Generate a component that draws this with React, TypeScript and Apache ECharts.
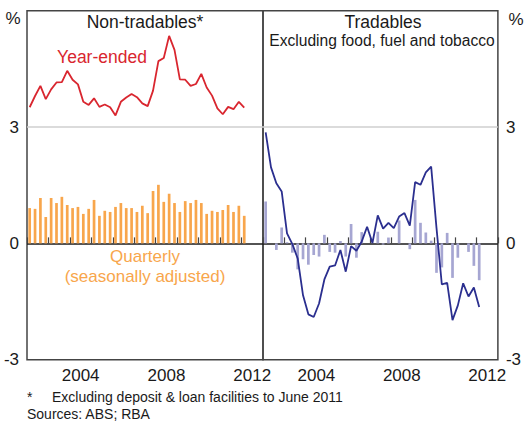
import React, { useEffect, useRef } from "react";
import * as echarts from "echarts";

const years = ["2002", "2003", "2004", "2005", "2006", "2007", "2008", "2009", "2010", "2011", "2012"];
const shownYears = ["2004", "2008", "2012"];
const quarterNames = ["Q1", "Q2", "Q3", "Q4"];
const quarters = years.flatMap((y) => quarterNames.map((q) => y + q));

const nonTradYearEnded = [
  3.51, 3.8, 4.06, 3.72, 3.97, 4.15, 4.16, 4.45, 4.22, 4.1,
  3.65, 3.57, 3.74, 3.52, 3.58, 3.51, 3.3, 3.65, 3.76, 3.85,
  3.77, 3.61, 3.54, 3.94, 4.7, 4.78, 5.35, 4.99, 4.23, 4.22,
  4.06, 4.11, 4.37, 4.02, 3.81, 3.48, 3.33, 3.52, 3.46, 3.65,
  3.5,
];
const nonTradQuarterly = [
  0.91, 0.89, 1.17, 0.68, 1.17, 1.04, 1.2, 0.99, 0.91, 0.94,
  0.76, 0.89, 1.12, 0.71, 0.84, 0.81, 0.94, 1.04, 0.91, 0.91,
  0.81, 0.97, 0.78, 1.35, 1.51, 1.07, 1.28, 1.04, 0.81, 1.09,
  1.04, 1.12, 1.04, 0.76, 0.84, 0.81, 0.86, 0.99, 0.81, 0.97,
  0.71,
];
const tradYearEnded = [
  2.86, 1.96, 1.55, 1.34, 0.26, -0.02, -0.39, -1.34, -1.83, -1.9,
  -1.55, -0.93, -0.6, -0.57, -0.17, -0.73, -0.07, -0.19, 0.05, 0.43,
  0.01, 0.72, 0.38, 0.53, 0.39, 0.69, 0.78, 0.46, 1.58, 1.51,
  1.83, 1.98, 0.4, -1.06, -1.02, -1.98, -1.6, -1.03, -1.37, -1.14,
  -1.64,
];
const tradQuarterly = [
  1.08, 0.0, -0.17, 0.41, 0.03, -0.24, -0.67, -0.41, -0.55, -0.3,
  -0.34, 0.22, -0.22, -0.24, 0.06, -0.34, 0.5, -0.37, 0.29, 0.0,
  0.0, 0.3, -0.03, 0.15, 0.0, 0.59, 0.0, -0.15, 1.12, 0.53,
  0.28, 0.07, -0.76, -0.62, 0.27, -0.89, -0.37, 0.0, -0.22, -0.58,
  -0.95,
];

const FONT = "Liberation Sans, Arial, sans-serif";
const TXT = "#1a1a1a";
const RED = "#d9262f";
const ORANGE = "#f8a64c";
const BLUE = "#2b2f8f";
const PURPLE = "#a6a6d2";

export default function App() {
  const ref = useRef<HTMLDivElement>(null);
  useEffect(() => {
    if (!ref.current) return;
    const chart = echarts.init(ref.current, null, { renderer: "svg" });
    const yAxisBase = (gridIndex: number, position: string) => ({
      type: "value",
      gridIndex,
      position,
      min: -3,
      max: 6,
      interval: 3,
      axisLine: { show: false },
      axisTick: { show: false },
      axisLabel: {
        show: true,
        margin: 8,
        color: TXT,
        fontSize: 17,
        fontFamily: FONT,
        formatter: (v: number) => (v === 6 ? "" : String(v)),
      },
      splitLine: {
        show: true,
        lineStyle: { color: ["transparent", "#1a1a1a", "#cfcfcf", "transparent"], width: 1.5 },
      },
    });
    const yearAxis = (gridIndex: number) => ({
      type: "category",
      gridIndex,
      data: years,
      position: "bottom",
      boundaryGap: true,
      axisLine: { show: false },
      axisTick: { show: true, inside: true, length: 6, interval: 0, lineStyle: { color: "#444", width: 1.2 } },
      axisLabel: {
        show: true,
        interval: (idx: number, val: string) => shownYears.includes(val),
        color: TXT,
        fontSize: 17,
        fontFamily: FONT,
        margin: 7,
      },
      splitLine: { show: false },
    });
    const quarterAxis = (gridIndex: number) => ({
      type: "category",
      gridIndex,
      data: quarters,
      boundaryGap: true,
      show: false,
    });
    const option: any = {
      animation: false,
      grid: [
        { left: 27, top: 10.7, width: 236, height: 349, show: true, borderColor: "#444", borderWidth: 1.5, backgroundColor: "transparent" },
        { left: 263, top: 10.7, width: 238, height: 349, show: true, borderColor: "#444", borderWidth: 1.5, backgroundColor: "transparent" },
      ],
      xAxis: [yearAxis(0), quarterAxis(0), yearAxis(1), quarterAxis(1)],
      yAxis: [yAxisBase(0, "left"), yAxisBase(1, "right")],
      series: [
        {
          type: "bar",
          xAxisIndex: 1,
          yAxisIndex: 0,
          data: nonTradQuarterly,
          barWidth: 2.7,
          itemStyle: { color: ORANGE },
        },
        {
          type: "line",
          xAxisIndex: 1,
          yAxisIndex: 0,
          data: nonTradYearEnded,
          showSymbol: false,
          symbol: "none",
          lineStyle: { color: RED, width: 1.8 },
        },
        {
          type: "bar",
          xAxisIndex: 3,
          yAxisIndex: 1,
          data: tradQuarterly,
          barWidth: 2.7,
          itemStyle: { color: PURPLE },
        },
        {
          type: "line",
          xAxisIndex: 3,
          yAxisIndex: 1,
          data: tradYearEnded,
          showSymbol: false,
          symbol: "none",
          lineStyle: { color: BLUE, width: 1.8 },
        },
      ],
      graphic: [
        { type: "text", x: 145, y: 22, style: { text: "Non-tradables*", fill: TXT, font: `17.5px ${FONT}`, textAlign: "center", textVerticalAlign: "middle" } },
        { type: "text", x: 102, y: 57, style: { text: "Year-ended", fill: RED, font: `17.5px ${FONT}`, textAlign: "center", textVerticalAlign: "middle" } },
        { type: "text", x: 383, y: 22, style: { text: "Tradables", fill: TXT, font: `17.5px ${FONT}`, textAlign: "center", textVerticalAlign: "middle" } },
        { type: "text", x: 382, y: 40, style: { text: "Excluding food, fuel and tobacco", fill: TXT, font: `15.6px ${FONT}`, textAlign: "center", textVerticalAlign: "middle" } },
        { type: "text", x: 145, y: 256, style: { text: "Quarterly", fill: ORANGE, font: `17px ${FONT}`, textAlign: "center", textVerticalAlign: "middle" } },
        { type: "text", x: 145, y: 276, style: { text: "(seasonally adjusted)", fill: ORANGE, font: `17px ${FONT}`, textAlign: "center", textVerticalAlign: "middle" } },
        { type: "text", x: 13, y: 18, style: { text: "%", fill: TXT, font: `17px ${FONT}`, textAlign: "center", textVerticalAlign: "middle" } },
        { type: "text", x: 516, y: 19, style: { text: "%", fill: TXT, font: `17px ${FONT}`, textAlign: "center", textVerticalAlign: "middle" } },
        { type: "text", x: 27, y: 397, style: { text: "*", fill: TXT, font: `14px ${FONT}`, textAlign: "left", textVerticalAlign: "middle" } },
        { type: "text", x: 52, y: 397, style: { text: "Excluding deposit & loan facilities to June 2011", fill: TXT, font: `14px ${FONT}`, textAlign: "left", textVerticalAlign: "middle" } },
        { type: "text", x: 27, y: 414, style: { text: "Sources: ABS; RBA", fill: TXT, font: `14px ${FONT}`, textAlign: "left", textVerticalAlign: "middle" } },
      ],
    };
    chart.setOption(option);
    return () => chart.dispose();
  }, []);
  return (
    <div
      ref={ref}
      style={{ position: "absolute", left: 0, top: 0, width: 524, height: 423, background: "#fff" }}
    />
  );
}
